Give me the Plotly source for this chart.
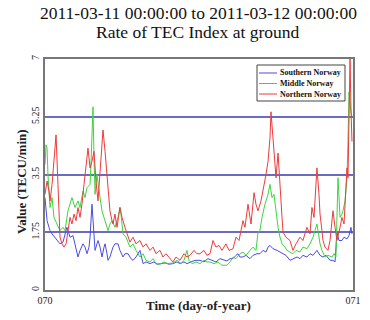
import plotly.graph_objects as go

# hours after 2011-03-11 00:00 UT, and rate of TEC index (TECU/min)
south_h = [0.00,0.08,0.16,0.31,0.39,0.55,0.78,1.01,1.17,1.40,1.56,1.71,1.87,1.95,2.18,2.34,2.57,2.73,2.96,3.12,3.27,3.43,3.51,3.66,3.74,3.90,4.05,4.13,4.29,4.44,4.60,4.68,4.83,4.91,5.06,5.30,5.45,5.69,5.84,6.08,6.23,6.47,6.70,6.86,7.09,7.40,7.64,7.87,8.18,8.49,8.73,8.96,9.35,9.66,9.97,10.29,10.52,10.83,11.06,11.38,11.69,12.08,12.39,12.70,13.01,13.32,13.64,13.95,14.18,14.42,14.65,14.88,15.04,15.19,15.43,15.66,15.97,16.21,16.52,16.75,16.99,17.22,17.38,17.53,17.77,18.08,18.31,18.55,18.78,19.09,19.32,19.64,19.87,20.10,20.41,20.65,20.88,21.19,21.43,21.66,21.90,22.21,22.44,22.60,22.75,22.91,23.14,23.30,23.53,23.69,23.84,23.92]
south_v = [2.8,2.4,2.1,1.9,1.8,1.7,1.6,1.5,1.4,1.45,1.7,1.9,1.7,1.6,1.65,1.4,1.0,1.2,1.4,1.3,1.1,1.3,1.6,2.6,2.0,1.2,1.4,1.5,1.3,1.0,1.3,1.4,1.1,0.9,1.0,1.3,1.4,1.4,1.2,1.0,1.1,1.1,0.95,0.9,1.0,1.2,0.8,0.85,0.8,0.85,0.78,0.8,0.82,0.78,0.8,0.85,0.8,0.85,0.8,0.85,0.9,0.9,0.85,0.95,0.9,0.85,0.95,0.9,0.88,0.95,0.95,1.05,1.1,1.0,1.0,1.05,0.95,1.05,1.1,1.1,1.2,1.15,1.3,1.35,1.25,1.2,1.15,1.1,1.05,0.9,0.95,1.0,0.95,1.05,1.0,1.1,1.05,1.2,1.05,1.0,1.05,0.9,0.9,0.85,1.75,1.5,1.5,1.6,1.55,1.65,1.9,1.7]

middle_h = [0.00,0.08,0.16,0.23,0.39,0.55,0.70,0.94,1.17,1.40,1.56,1.79,1.95,2.10,2.26,2.34,2.57,2.73,2.96,3.12,3.27,3.51,3.58,3.74,3.82,3.90,4.05,4.13,4.29,4.44,4.68,4.91,5.06,5.22,5.45,5.69,5.84,5.92,6.08,6.31,6.62,6.86,7.09,7.40,7.64,7.87,8.18,8.42,8.65,8.96,9.27,9.58,9.97,10.29,10.60,10.83,11.06,11.22,11.45,11.77,12.08,12.39,12.62,12.86,13.17,13.48,13.79,14.18,14.42,14.65,14.88,15.19,15.43,15.66,15.97,16.21,16.44,16.60,16.75,16.91,17.14,17.38,17.53,17.69,17.84,17.92,18.08,18.16,18.31,18.47,18.70,18.86,19.09,19.32,19.56,19.87,20.10,20.41,20.65,20.88,21.04,21.19,21.27,21.43,21.58,21.82,22.05,22.36,22.52,22.67,22.83,22.91,22.99,23.14,23.22,23.38,23.53,23.61,23.69,23.84,23.92]
middle_v = [3.8,4.4,4.3,3.5,2.5,2.8,2.2,2.0,1.8,1.9,1.8,2.4,2.6,2.8,2.6,2.5,2.7,2.5,3.0,2.8,3.1,3.2,3.8,5.55,4.0,2.9,3.5,3.2,2.8,2.4,2.1,1.8,2.0,2.1,1.9,2.2,2.5,2.3,1.7,1.6,1.3,1.4,1.2,1.0,1.1,0.9,0.85,0.95,0.8,0.78,0.85,0.8,0.82,0.9,0.8,0.9,1.2,0.9,0.8,0.85,0.8,0.9,0.85,0.85,0.8,0.85,0.75,0.75,0.85,1.0,0.95,1.1,1.15,1.05,1.2,1.3,1.2,1.75,1.8,2.2,2.6,2.9,3.2,2.8,2.9,2.6,2.2,1.9,1.6,1.4,1.3,1.2,1.15,1.1,1.2,1.15,1.3,1.25,1.4,1.6,1.8,2.0,1.8,1.4,1.2,1.0,1.05,1.0,1.1,1.0,3.4,2.7,2.2,2.3,2.4,2.7,3.4,4.5,6.0,5.4,5.25]

north_h = [0.00,0.16,0.31,0.39,0.55,0.70,0.86,1.01,1.17,1.32,1.48,1.64,1.79,1.95,2.10,2.26,2.42,2.57,2.73,2.88,3.04,3.19,3.35,3.51,3.66,3.82,3.97,4.13,4.29,4.44,4.52,4.68,4.83,4.99,5.06,5.22,5.30,5.45,5.61,5.84,6.00,6.23,6.39,6.62,6.86,7.09,7.40,7.64,7.87,8.18,8.42,8.65,8.96,9.19,9.43,9.74,9.97,10.21,10.52,10.83,11.06,11.30,11.61,11.84,12.08,12.39,12.62,12.86,13.09,13.32,13.56,13.79,14.10,14.34,14.65,14.88,15.12,15.27,15.43,15.58,15.82,16.05,16.29,16.44,16.60,16.83,16.99,17.22,17.38,17.53,17.61,17.77,17.92,18.00,18.16,18.31,18.47,18.55,18.78,19.09,19.32,19.56,19.87,20.10,20.41,20.65,20.80,20.96,21.19,21.35,21.43,21.58,21.66,21.82,22.05,22.21,22.44,22.60,22.75,22.99,23.14,23.30,23.38,23.53,23.61,23.77,23.84,23.92]
north_v = [2.9,3.3,3.0,2.7,3.2,3.9,4.7,3.2,1.6,1.4,1.3,1.4,1.8,2.2,2.0,2.3,2.1,2.5,2.2,2.6,3.2,3.8,4.3,3.7,3.9,4.2,3.3,2.7,3.5,4.5,4.85,4.2,3.4,2.7,2.4,2.1,2.0,2.3,1.9,2.5,2.2,1.9,1.7,1.45,1.6,1.4,1.5,1.3,1.4,1.2,1.3,1.1,1.2,1.0,1.1,0.95,0.85,1.0,0.9,1.1,1.0,1.05,1.2,1.1,1.1,1.2,1.05,1.1,1.5,1.3,1.35,1.2,1.4,1.2,1.25,1.6,1.5,1.8,2.1,1.9,2.6,2.0,2.95,2.6,2.4,2.7,3.0,3.5,3.9,4.6,5.4,4.6,3.8,3.4,4.15,3.0,2.2,1.75,1.6,1.5,1.2,1.4,1.6,1.5,1.9,1.7,2.5,2.2,3.7,2.9,2.3,1.8,1.5,1.3,1.2,1.5,2.4,1.9,1.5,1.9,2.2,2.0,2.6,3.7,3.4,7.0,5.5,4.5]

series_names = ["Southern Norway", "Middle Norway", "Northern Norway"]
series_colors = ["#4a4ae6", "#3fd43f", "#ee3b3b"]
y_ticks = [0, 1.75, 3.5, 5.25, 7]
x_ticks = [70, 71]
x_labels = ["070", "071"]
title_lines = ["2011-03-11 00:00:00 to 2011-03-12 00:00:00", "Rate of TEC Index at ground"]

def doy(hours):
    return [70 + h / 24 for h in hours]

fig = go.Figure()
for hrs, vals, name, col in zip([south_h, middle_h, north_h], [south_v, middle_v, north_v],
                                series_names, series_colors):
    fig.add_trace(go.Scatter(x=doy(hrs), y=vals, mode="lines", name=name,
                             line=dict(color=col, width=1), showlegend=False))

serif = "Liberation Serif"
PW, PH = 308, 231  # plot area size in px (for layout placement of annotations)
fig.update_layout(
    width=370, height=320,
    margin=dict(l=45, r=17, t=59, b=30),
    paper_bgcolor="white", plot_bgcolor="white",
    font=dict(family=serif, color="#222"),
    showlegend=False,
)
for i, line in enumerate(title_lines):
    fig.add_annotation(text=line, xref="paper", yref="paper", x=(198 - 45) / PW,
                       y=(290 - 13.5 - 18.5 * i) / PH, borderpad=0,
                       xanchor="center", yanchor="middle", showarrow=False,
                       font=dict(family=serif, size=17.5, color="#111"))
fig.add_annotation(text="<b>Time (day-of-year)</b>", xref="paper", yref="paper", x=(198 - 45) / PW,
                   y=-15 / PH, xanchor="center", yanchor="middle", showarrow=False,
                   font=dict(family=serif, size=13, color="#222"))
fig.add_annotation(text="<b>Value (TECU/min)</b>", xref="paper", yref="paper", x=-24 / PW,
                   y=(290 - 182) / PH, xanchor="center", yanchor="middle", showarrow=False,
                   textangle=-90, font=dict(family=serif, size=13, color="#222"))

# compact legend box (top-right, inside the plot)
lx0, lx1, ly0, ly1 = (257 - 45) / PW, (345 - 45) / PW, (290 - 101) / PH, (290 - 65) / PH
fig.add_shape(type="rect", xref="paper", yref="paper", x0=lx0, x1=lx1, y0=ly0, y1=ly1,
              fillcolor="white", line=dict(color="#444", width=1), layer="above")
for i, (name, col) in enumerate(zip(series_names, series_colors)):
    yy = (290 - 73 - 10.5 * i) / PH
    fig.add_shape(type="line", xref="paper", yref="paper", x0=(259 - 45) / PW, x1=(277 - 45) / PW,
                  y0=yy, y1=yy, line=dict(color=col, width=1), layer="above")
    fig.add_annotation(text="<b>" + name + "</b>", xref="paper", yref="paper", x=(279 - 45) / PW,
                       y=yy, xanchor="left", yanchor="middle", showarrow=False, borderpad=0,
                       font=dict(family=serif, size=8, color="#111"))

fig.update_xaxes(range=[70, 71], tickvals=x_ticks, ticktext=x_labels, automargin=False,
                 showgrid=False, zeroline=False, showline=True, mirror=True,
                 linecolor="#777", linewidth=1.5, ticks="",
                 tickfont=dict(family=serif, size=10, color="#222"))
fig.update_yaxes(range=[0, 7], tickvals=y_ticks, tickangle=-90, automargin=False,
                 showgrid=True, gridcolor="#6b6bc4", gridwidth=1.5,
                 zeroline=False, showline=True, mirror=True,
                 linecolor="#777", linewidth=1.5, ticks="",
                 tickfont=dict(family=serif, size=10, color="#222"))

fig.write_html("out.html")
